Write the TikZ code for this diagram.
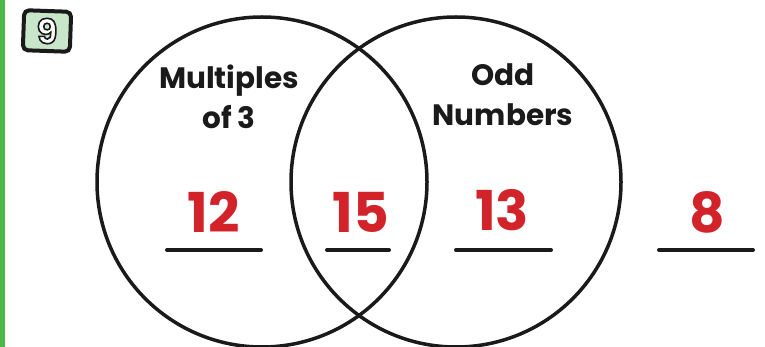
\documentclass[tikz,border=0pt]{standalone}
\usepackage{fontspec}
\setmainfont{Poppins}
\definecolor{barg}{HTML}{4DB848}
\definecolor{badgeg}{HTML}{C9E6CB}
\definecolor{numred}{HTML}{D2232A}
\definecolor{ink}{HTML}{1A1A1A}
\begin{document}
\begin{tikzpicture}[x=1pt,y=-1pt,
  ring/.style={draw=ink,line width=3.5pt},
  lbl/.style={font=\fontsize{29.5}{40}\selectfont\bfseries,text=ink,align=center},
  num/.style={font=\fontsize{55}{55}\selectfont\bfseries,text=numred},
  blank/.style={draw=ink,line width=4pt,line cap=round}]
\useasboundingbox (0,0) rectangle (765,347);
\fill[barg] (0,0) rectangle (5,347);
\node[draw=ink,line width=4pt,fill=badgeg,rounded corners=5pt,minimum width=47pt,minimum height=40pt,rotate=-2] (badge) at (47,31) {};
\node[font=\fontsize{34}{34}\selectfont\bfseries,text=white,inner sep=0pt] (nine) at (badge.center) {\special{pdf:literal direct 2 Tr 1.6 w 0.1 0.1 0.1 RG}9\special{pdf:literal direct 0 Tr}};
\node[ring,circle,minimum size=330pt,inner sep=0pt] (left) at (262,182) {};
\node[ring,circle,minimum size=330pt,inner sep=0pt] (right) at (456,182) {};
\node[lbl] (mult) at (229,97) {Multiples\\of 3};
\node[lbl] (odd) at (503,95) {Odd\\Numbers};
\node[num] (n12) at (214,212) {12};
\node[num] (n15) at (361,212) {15};
\node[num] (n13) at (502,210) {13};
\node[num] (n8) at (707,212) {8};
\coordinate (a1) at (167,250); \coordinate (a2) at (261,250);
\coordinate (b1) at (327,250); \coordinate (b2) at (389,250);
\coordinate (c1) at (456,250); \coordinate (c2) at (551,250);
\coordinate (d1) at (659,250); \coordinate (d2) at (753,250);
\draw[blank] (a1) -- (a2);
\draw[blank] (b1) -- (b2);
\draw[blank] (c1) -- (c2);
\draw[blank] (d1) -- (d2);
\end{tikzpicture}
\end{document}
